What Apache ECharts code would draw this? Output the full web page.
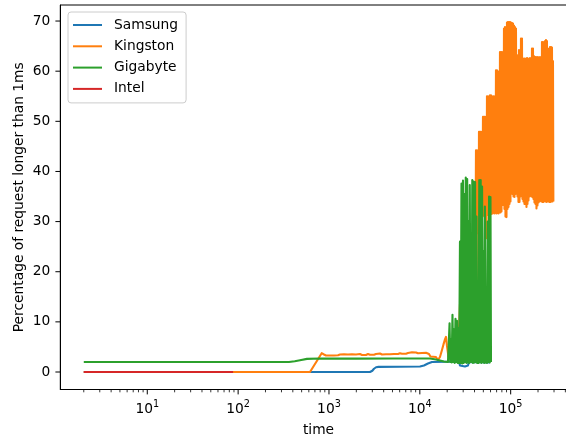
<!DOCTYPE html>
<html><head><meta charset="utf-8">
<script src="https://cdn.jsdelivr.net/npm/echarts@6/dist/echarts.min.js"></script>
<style>html,body{margin:0;padding:0;background:#fff}#c{width:566px;height:441px}</style>
</head><body><div id="c"></div>
<script>
const seriesNames = ['Samsung', 'Kingston', 'Gigabyte', 'Intel'];
const seriesColors = ['#1f77b4', '#ff7f0e', '#2ca02c', '#d62728'];
const xMajorTicks = [10, 100, 1000, 10000, 100000];
const xMinorTicks = [2,3,4,5,6,7,8,9,20,30,40,50,60,70,80,90,200,300,400,500,600,700,800,900,
  2000,3000,4000,5000,6000,7000,8000,9000,20000,30000,40000,50000,60000,70000,80000,90000,
  200000,300000,400000,500000];
const yTicks = [0, 10, 20, 30, 40, 50, 60, 70];
const xAxisName = 'time';
const yAxisName = 'Percentage of request longer than 1ms';

const samsung = [[2,0],[2830,0],[3000,0.25],[3130,0.65],[3300,0.95],[3500,1.02],[6000,1.05],[10040,1.1],
  [11110,1.3],[12290,1.7],[13600,2.0],[20000,2.05],[27000,2.05],[27660,1.3],[28370,1.0],[31400,1.1],
  [33880,1.3],[34750,2.0],[59000,1.9]];

const kingston = [[2,0],[618,0],[831,3.75],
  [881,3.5],[927,3.3],[975,3.45],[1026,3.3],[1079,3.5],[1135,3.3],[1194,3.45],[1256,3.35],[1322,3.5],
  [1390,3.3],[1463,3.55],[1539,3.35],[1619,3.5],[1703,3.35],[1792,3.55],[1885,3.4],[1983,3.5],[2086,3.35],
  [2194,3.6],[2309,3.4],[2429,3.55],[2555,3.4],[2688,3.6],[2828,3.45],[2975,3.65],[3129,3.45],[3292,3.6],
  [3463,3.5],[3643,3.7],[3833,3.5],[4032,3.65],[4242,3.55],[4462,3.75],[4694,3.55],[4938,3.7],[5195,3.6],
  [5465,3.8],[5749,3.6],[6048,3.75],[6363,3.65],[6693,3.85],[7041,3.65],[7408,3.8],[7793,3.7],[8198,3.95],
  [8624,3.7],[9073,3.9],[9545,3.75],[10041,4.0],[10563,3.8],[11112,4.1],[11690,3.85],
  [12140,4.15],[12610,3.6],[13100,3.1],[13950,3.05],
  [15060,3.0],[15840,2.4],[16660,3.0],[17530,4.4],[18210,5.5],[18920,6.5],[19400,7.0],[19900,5.2],[20670,3.0],
  [20930,2.8],[21470,4],[22590,2.6],[23170,6],[24370,2.5],[25640,9],[26300,2.8],[27660,13.5],[28370,2.5],
  [29100,14],[29850,3],[31400,8],[32210,2.5],[33880,12],[34750,3],[36560,18],[37500,2.5],[38460,10],
  [39450,3],[40460,3.5],
  [41500,44.2],[42030,27.7],[42560,44.2],[43110,31.5],[43660,44.2],[44210,12],[44780,47.9],[45350,31.5],
  [45930,47.9],[46510,31.3],[47100,47.9],[47710,31.5],[48310,47.9],[48930,31.5],[49550,50.9],[50190,31.2],
  [50830,50.9],[51470,31],[52130,50.9],[52800,31.3],[53470,50.9],[54150,26.7],[54840,55],[55540,31.3],
  [56250,55],[56970,31.3],[57690,55],[58430,31.6],[59170,55.2],[59930,31.6],[60690,55.2],[61470,31.5],
  [62250,55],[63050,31.6],[63850,55],[64660,31.8],[65490,55],[66320,31.6],[67170,55],[68030,31.8],
  [68890,60.2],[69770,31.6],[70660,60.2],[71560,31.7],[72480,60],[73400,31.6],[74340,60],[75280,31.8],
  [76240,63.8],[77220,31.8],[78200,63.8],[79200,32],[80210,63.8],[81230,33.3],[82270,63.8],[83320,33.3],
  [84380,68.5],[85450,32.5],[86540,68.8],[87650,31],[88770,68.8],[89900,30.9],[91040,69.7],[92210,32.5],
  [93380,69.8],[94570,32.9],[95780,69.8],[97000,33.5],[98240,69.8],[99490,34],[100760,69.7],[102040,36.6],
  [103340,69.6],[104660,35.5],[106000,69.5],[107350,35],[108720,69.1],[110110,34.9],[111510,68.8],[112930,35.5],
  [114370,68.5],[115830,36.6],[117310,63.2],[118800,35],[120320,62.8],[121850,33.9],[123410,64.2],[124980,33.9],
  [126570,63],[128190,35],[129820,66.5],[131480,35.9],[133160,66.5],[134850,34.5],[136570,62.5],[138320,34],
  [140080,62.5],[141870,33.5],[143670,62.5],[145510,33.5],[147360,62.4],[149240,32.9],[151150,62.6],[153070,33.5],
  [155030,62.5],[157000,34.2],[159000,62.3],[161030,35],[163090,62.6],[165170,35.3],[167270,62.5],[169410,35],
  [171570,64.5],[173750,34.9],[175970,64.5],[178210,34.5],[180490,63],[182790,33.8],[185120,62.8],[187480,33.5],
  [189870,62.8],[192290,32.6],[194750,62.7],[197230,33.2],[199740,62.8],[202290,33.8],[204870,62.6],[207480,34],
  [210130,62.8],[212810,34.3],[215520,62.7],[218270,34],[221060,65.8],[223880,33.9],[226730,65.8],[229620,33.9],
  [232550,65.5],[235520,34.2],[238520,66],[241560,34],[244640,66.2],[247760,33.9],[250920,66],[254120,34],
  [257360,64.5],[260650,34],[263970,64.3],[267340,33.9],[270750,64.8],[274200,33.9],[277700,64.8],[281240,34],
  [284820,64.7],[288460,34],[292140,62],[295100,34]];

const gigabyte = [[2,2.0],[363,2.0],[420,2.15],[480,2.35],[572,2.62],[800,2.68],[2000,2.66],[5000,2.7],
  [10000,2.7],[12930,2.68],[15060,2.5],[16660,2.3],[18440,2.1],[20410,2.0],
  [20930,2.0],[21250,9.7],[21630,2.0],[22020,6.5],[22420,1.9],[22880,11.4],[23290,2.0],[23760,8.5],
  [24190,1.8],[24680,10.6],[25120,2.0],[25640,10.2],[26100,1.8],[26630,8.8],[27110,1.8],[27660,26],
  [28160,1.8],[28740,37.6],[29340,1.7],[29850,38.2],[30380,1.8],[30930,35.5],[31480,2.0],[32040,38.8],
  [32620,1.8],[33200,38.5],[33800,1.9],[34400,30],[34920,1.8],[35460,37.3],[36100,2.0],[36650,22],
  [37120,2.0],[37790,38.3],[38460,1.8],[39150,38],[39850,1.9],[40560,37.9],[41290,2.0],[42030,31],
  [42780,1.8],[43660,12],[44330,1.8],[45120,38.3],[45930,2.0],[46750,38.3],[47590,1.8],[48440,37],
  [49310,2.0],[50190,24],[51090,1.8],[52000,33],[52940,1.9],[53880,12],[54840,1.8],[55820,30],
  [56830,2.0],[57840,35],[58880,1.9],[59930,34.9],[60690,2.0]];

const intel = [[2,0],[88,0]];

const seriesData = [samsung, kingston, gigabyte, intel];

const FONT = 'DejaVu Sans';
const chart = echarts.init(document.getElementById('c'), null, {renderer: 'canvas'});

const xRange = {min: 1.103, max: 533000};
const yRange = {min: -3.49, max: 73.2};

const lineSeries = seriesNames.map(function (name, i) {
  return {
    name: name, type: 'line', xAxisIndex: 0, yAxisIndex: 0,
    data: seriesData[i], showSymbol: false, symbol: 'none', sampling: 'none',
    color: seriesColors[i],
    lineStyle: {color: seriesColors[i], width: 2.1, join: 'round', cap: 'butt'},
    itemStyle: {color: seriesColors[i]},
    emphasis: {disabled: true}, silent: true
  };
});

// Tick marks drawn through the axes' own scales (api.coord)
function tickSeries(name, data, dx, dy, width) {
  return {
    name: name, type: 'custom', xAxisIndex: 0, yAxisIndex: 0,
    data: data, encode: {x: 0, y: 1}, clip: false, silent: true, z: 5,
    renderItem: function (params, api) {
      const p = api.coord([api.value(0), api.value(1)]);
      return {
        type: 'line',
        shape: {x1: p[0], y1: p[1], x2: p[0] + dx, y2: p[1] + dy},
        style: {stroke: '#000', lineWidth: width}
      };
    }
  };
}

const tickSeriesList = [
  tickSeries('xMajorTicks', xMajorTicks.map(function (v) { return [v, yRange.min]; }), 0, 4.9, 1),
  tickSeries('xMinorTicks', xMinorTicks.map(function (v) { return [v, yRange.min]; }), 0, 2.8, 0.8),
  tickSeries('yTicks', yTicks.map(function (v) { return [xRange.min, v]; }), -4.9, 0, 1)
];

chart.setOption({
  animation: false,
  backgroundColor: '#ffffff',
  textStyle: {fontFamily: FONT},
  grid: {
    left: 60.3, right: -10.7, top: 5, bottom: 51.5,
    show: true, borderColor: '#000', borderWidth: 1, backgroundColor: 'transparent',
    containLabel: false, outerBoundsMode: 'none'
  },
  legend: {
    orient: 'vertical', left: 68, top: 12,
    data: seriesNames,
    icon: 'rect', itemWidth: 29, itemHeight: 2, itemGap: 5.3,
    padding: [5, 8, 6, 5],
    backgroundColor: '#ffffff', borderColor: '#cccccc', borderWidth: 1, borderRadius: 3,
    selectedMode: false,
    textStyle: {fontFamily: FONT, fontSize: 13.8, color: '#000', lineHeight: 16, padding: [0, 0, 0, 7]}
  },
  xAxis: {
    type: 'log', logBase: 10, min: xRange.min, max: xRange.max, position: 'bottom',
    name: xAxisName, nameLocation: 'middle', nameGap: 34, nameMoveOverlap: false,
    nameTextStyle: {fontFamily: FONT, fontSize: 13.8, color: '#000'},
    axisLine: {show: true, onZero: false, lineStyle: {color: '#000', width: 1}},
    axisTick: {show: false},
    minorTick: {show: false},
    splitLine: {show: false},
    axisLabel: {
      show: true, margin: 10, customValues: xMajorTicks,
      formatter: function (v) { return '{b|10}{s|' + Math.round(Math.log10(v)) + '}'; },
      rich: {
        b: {fontFamily: FONT, fontSize: 13.8, color: '#000', verticalAlign: 'bottom', lineHeight: 17},
        s: {fontFamily: FONT, fontSize: 9.7, color: '#000', verticalAlign: 'top', lineHeight: 11}
      }
    }
  },
  yAxis: {
    type: 'value', min: yRange.min, max: yRange.max,
    name: yAxisName, nameLocation: 'middle', nameGap: 34, nameMoveOverlap: false,
    nameTextStyle: {fontFamily: FONT, fontSize: 13.8, color: '#000'},
    axisLine: {show: true, onZero: false, lineStyle: {color: '#000', width: 1}},
    axisTick: {show: false},
    splitLine: {show: false},
    axisLabel: {show: true, margin: 10, customValues: yTicks, fontFamily: FONT, fontSize: 13.8, color: '#000'}
  },
  series: lineSeries.concat(tickSeriesList)
});
</script>
</body></html>
